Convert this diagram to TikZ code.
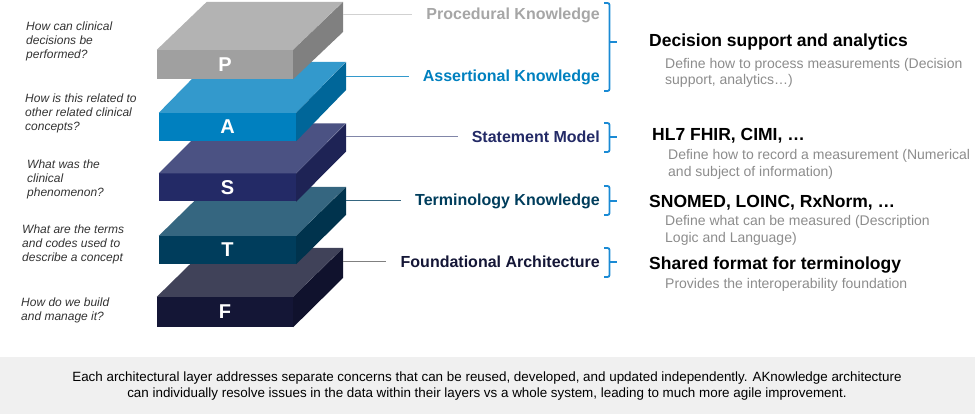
\documentclass[tikz,border=0pt]{standalone}
\usepackage{fontspec}
\setmainfont{Liberation Sans}

\definecolor{ptop}{HTML}{B3B3B3}
\definecolor{pfront}{HTML}{A0A0A0}
\definecolor{pside}{HTML}{808080}
\definecolor{atop}{HTML}{3399CC}
\definecolor{afront}{HTML}{0080BF}
\definecolor{aside}{HTML}{006699}
\definecolor{stop}{HTML}{4B5283}
\definecolor{sfront}{HTML}{232A66}
\definecolor{sside}{HTML}{1E2355}
\definecolor{ttop}{HTML}{356680}
\definecolor{tfront}{HTML}{003D5C}
\definecolor{tside}{HTML}{00334D}
\definecolor{ftop}{HTML}{404259}
\definecolor{ffront}{HTML}{141636}
\definecolor{fside}{HTML}{10122D}
\definecolor{plabelcol}{HTML}{A6A6A6}
\definecolor{bracecol}{HTML}{1A8AD4}
\definecolor{qtext}{HTML}{333333}
\definecolor{dtext}{HTML}{8C8C8C}
\definecolor{bandgray}{HTML}{F0F0F0}

\begin{document}
\begin{tikzpicture}[x=1pt, y=-1pt,
    face/.style={minimum width=137pt, minimum height=28pt, inner sep=0pt, text=white, font=\fontsize{20}{20}\selectfont\bfseries},
    layer/.style={anchor=east, inner sep=0pt, font=\fontsize{16}{18}\selectfont\bfseries},
    link/.style={line width=1pt, shorten >=14pt},
    question/.style={anchor=west, inner sep=0pt, align=left, text=qtext, font=\fontsize{12}{14}\selectfont\itshape},
    heading/.style={anchor=west, inner sep=0pt, font=\fontsize{17.5}{19}\selectfont\bfseries},
    detail/.style={anchor=west, inner sep=0pt, align=left, text=dtext, font=\fontsize{14}{16.5}\selectfont},
    brace/.style={draw=bracecol, line width=1.8pt, rounded corners=2pt},
]
\useasboundingbox (0,0) rectangle (975,414);

% Bottom band
\fill[bandgray] (0,357) rectangle (975,414);
\node[align=center, font=\fontsize{13.4}{15.5}\selectfont] (summary) at (487,386)
  {Each architectural layer addresses separate concerns that can be reused, developed, and updated independently. AKnowledge architecture\\
   can individually resolve issues in the data within their layers vs a whole system, leading to much more agile improvement.};

% F layer
\node[face, minimum width=136pt, minimum height=30pt, fill=ffront] (ff) at (225,312) {F};
\fill[ftop] (ff.north west) -- ++(50,-49) -- ++(136,0) -- (ff.north east) -- cycle;
\fill[fside] (ff.north east) -- ++(50,-49) -- ++(0,30) -- (ff.south east) -- cycle;

% T layer
\node[face, fill=tfront] (tf) at (227.5,250) {T};
\fill[ttop] (tf.north west) -- ++(50,-49) -- ++(137,0) -- (tf.north east) -- cycle;
\fill[tside] (tf.north east) -- ++(50,-49) -- ++(0,28) -- (tf.south east) -- cycle;

% S layer
\node[face, fill=sfront] (sf) at (227.5,187.5) {S};
\fill[stop] (sf.north west) -- ++(50,-50) -- ++(137,0) -- (sf.north east) -- cycle;
\fill[sside] (sf.north east) -- ++(50,-50) -- ++(0,28) -- (sf.south east) -- cycle;

% A layer
\node[face, fill=afront] (af) at (227.5,127) {A};
\fill[atop] (af.north west) -- ++(50,-51) -- ++(137,0) -- (af.north east) -- cycle;
\fill[aside] (af.north east) -- ++(50,-51) -- ++(0,28) -- (af.south east) -- cycle;

% P layer
\node[face, minimum width=136pt, minimum height=29pt, fill=pfront] (pf) at (225,64.5) {P};
\fill[ptop] (pf.north west) -- ++(50,-48) -- ++(136,0) -- (pf.north east) -- cycle;
\fill[pside] (pf.north east) -- ++(50,-48) -- ++(0,30) -- (pf.south east) -- cycle;

% Layer names
\node[layer, text=plabelcol] (plabel) at (600,15) {Procedural Knowledge};
\node[layer, text=afront] (alabel) at (600,77) {Assertional Knowledge};
\node[layer, text=sfront] (slabel) at (600,137) {Statement Model};
\node[layer, text=tfront] (tlabel) at (600,201) {Terminology Knowledge};
\node[layer, text=ffront] (flabel) at (600,262) {Foundational Architecture};

% Links
\coordinate (pedge) at (343,15);
\coordinate (aedge) at (346,77);
\coordinate (sedge) at (346,137);
\coordinate (tedge) at (346,201);
\coordinate (fedge) at (343,262);
\draw[link, draw=ptop!60] (pedge) -- (plabel);
\draw[link, draw=atop] (aedge) -- (alabel);
\draw[link, draw=stop!70] (sedge) -- (slabel);
\draw[link, draw=ttop] (tedge) -- (tlabel);
\draw[link, draw=pside] (fedge) -- (flabel);

% Braces
\draw[brace] (604,3) -- (609.5,3) -- (609.5,91) -- (604,91);
\draw[brace] (609.5,42) -- (617,42);
\draw[brace] (604,123) -- (609.5,123) -- (609.5,152) -- (604,152);
\draw[brace] (609.5,137) -- (617,137);
\draw[brace] (604,186) -- (609.5,186) -- (609.5,215) -- (604,215);
\draw[brace] (609.5,201) -- (617,201);
\draw[brace] (604,248) -- (609.5,248) -- (609.5,277) -- (604,277);
\draw[brace] (609.5,262) -- (617,262);

% Questions
\node[question] (pq) at (26,41.5) {How can clinical\\decisions be\\performed?};
\node[question] (aq) at (25,113.5) {How is this related to\\other related clinical\\concepts?};
\node[question] (sq) at (27,179) {What was the\\clinical\\phenomenon?};
\node[question] (tq) at (22,244) {What are the terms\\and codes used to\\describe a concept};
\node[question] (fq) at (21,310.5) {How do we build\\and manage it?};

% Right column
\node[heading] (phead) at (649,42) {Decision support and analytics};
\node[detail] (pdet) at (665,73) {Define how to process measurements (Decision\\support, analytics\ldots)};
\node[heading] (shead) at (652,136) {HL7 FHIR, CIMI, \ldots};
\node[detail] (sdet) at (668,164.5) {Define how to record a measurement (Numerical\\and subject of information)};
\node[heading] (thead) at (649,203) {SNOMED, LOINC, RxNorm, \ldots};
\node[detail] (tdet) at (665,230.5) {Define what can be measured (Description\\Logic and Language)};
\node[heading] (fhead) at (649,265) {Shared format for terminology};
\node[detail] (fdet) at (665,285) {Provides the interoperability foundation};

\end{tikzpicture}
\end{document}
